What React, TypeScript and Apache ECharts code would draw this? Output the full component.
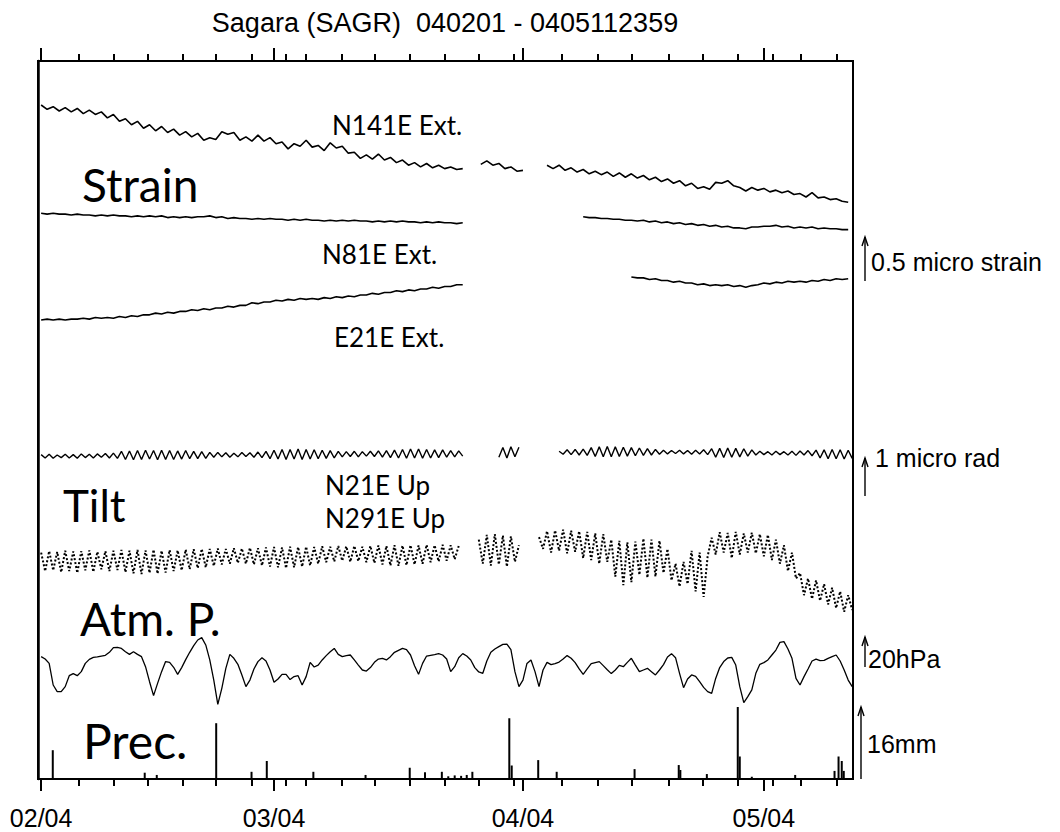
import React, { useEffect, useRef } from "react";
import * as echarts from "echarts";

// ---------- time axis (days since 2004-02-01 00:00) ----------
const X_MIN = -0.39;
const X_MAX = 101.1;
const MONTH_TICKS = [0, 29, 60, 90];
const MONTH_LABELS = ["02/04", "03/04", "04/04", "05/04"];
const MINOR_TICKS = [4.72, 9.02, 13.26, 17.62, 21.83, 26.22, 30.55, 33.0, 37.43, 41.61, 45.93, 50.29, 54.57, 58.84, 64.91, 69.33, 73.6, 78.22, 82.36, 86.75, 91.11, 94.65, 99.09];

// ---------- strain (micro strain), sampled every 0.75 day ----------
const STRAIN_STEP = 0.75;
const N141E = [
  0.00, -0.05, -0.02, -0.07, -0.03, -0.08, -0.04, -0.10, -0.06, -0.11,
  -0.08, -0.15, -0.11, -0.19, -0.16, -0.23, -0.19, -0.27, -0.23, -0.30,
  -0.25, -0.32, -0.28, -0.35, -0.31, -0.37, -0.33, -0.41, -0.38, -0.40,
  -0.31, -0.34, -0.32, -0.41, -0.37, -0.42, -0.35, -0.42, -0.38, -0.45,
  -0.43, -0.51, -0.45, -0.48, -0.41, -0.49, -0.47, -0.53, -0.44, -0.50,
  -0.48, -0.56, -0.55, -0.62, -0.58, -0.63, -0.57, -0.64, -0.61, -0.67,
  -0.64, -0.70, -0.67, -0.72, -0.68, -0.73, -0.70, -0.74, -0.72, -0.75,
  -0.74, null, null, -0.69, -0.65, -0.70, -0.68, -0.74, -0.72, -0.77,
  -0.76, null, null, null, -0.70, -0.74, -0.70, -0.76, -0.73, -0.78,
  -0.75, -0.80, -0.77, -0.81, -0.78, -0.83, -0.79, -0.84, -0.80, -0.85,
  -0.82, -0.87, -0.84, -0.89, -0.86, -0.91, -0.88, -0.94, -0.91, -0.97,
  -0.95, -0.98, -0.90, -0.91, -0.88, -0.94, -0.96, -1.00, -0.96, -0.99,
  -0.97, -1.01, -0.99, -1.02, -1.00, -1.04, -1.03, -1.07, -1.02, -1.08,
  -1.07, -1.10, -1.09, -1.12, -1.13,
];
const N81E = [
  0.00, -0.01, 0.00, -0.01, -0.01, -0.02, -0.01, -0.02, -0.02, -0.03,
  -0.02, -0.03, -0.02, -0.03, -0.03, -0.04, -0.03, -0.04, -0.03, -0.04,
  -0.03, -0.05, -0.04, -0.05, -0.04, -0.05, -0.04, -0.04, -0.03, -0.05,
  -0.04, -0.06, -0.05, -0.06, -0.06, -0.07, -0.06, -0.07, -0.06, -0.07,
  -0.07, -0.08, -0.07, -0.08, -0.07, -0.08, -0.08, -0.09, -0.08, -0.09,
  -0.08, -0.09, -0.08, -0.09, -0.09, -0.10, -0.09, -0.10, -0.09, -0.10,
  -0.09, -0.10, -0.10, -0.11, -0.10, -0.11, -0.10, -0.11, -0.11, -0.12,
  -0.11, null, null, null, null, null, null, null, null, null,
  null, null, null, null, null, null, null, null, null, null,
  -0.04, -0.05, -0.05, -0.06, -0.06, -0.07, -0.07, -0.08, -0.08, -0.09,
  -0.08, -0.10, -0.09, -0.11, -0.10, -0.12, -0.11, -0.13, -0.12, -0.14,
  -0.13, -0.15, -0.14, -0.16, -0.15, -0.17, -0.17, -0.18, -0.16, -0.16,
  -0.15, -0.15, -0.14, -0.16, -0.15, -0.17, -0.16, -0.17, -0.16, -0.18,
  -0.17, -0.18, -0.18, -0.19, -0.19,
];
const E21E = [
  0.00, 0.01, 0.00, 0.01, 0.00, 0.01, 0.01, 0.02, 0.01, 0.03,
  0.02, 0.03, 0.02, 0.04, 0.03, 0.05, 0.04, 0.06, 0.06, 0.08,
  0.07, 0.09, 0.08, 0.10, 0.10, 0.12, 0.11, 0.13, 0.12, 0.14,
  0.14, 0.16, 0.15, 0.17, 0.17, 0.20, 0.19, 0.21, 0.21, 0.23,
  0.22, 0.24, 0.23, 0.25, 0.24, 0.25, 0.24, 0.26, 0.25, 0.27,
  0.26, 0.28, 0.27, 0.29, 0.29, 0.31, 0.30, 0.32, 0.32, 0.34,
  0.33, 0.35, 0.34, 0.36, 0.36, 0.38, 0.37, 0.39, 0.39, 0.41,
  0.41, null, null, null, null, null, null, null, null, null,
  null, null, null, null, null, null, null, null, null, null,
  null, null, null, null, null, null, null, null, 0.50, 0.49,
  0.49, 0.47, 0.48, 0.46, 0.46, 0.44, 0.45, 0.43, 0.43, 0.41,
  0.42, 0.40, 0.41, 0.40, 0.41, 0.39, 0.40, 0.38, 0.40, 0.41,
  0.43, 0.42, 0.44, 0.43, 0.45, 0.44, 0.45, 0.44, 0.46, 0.45,
  0.47, 0.46, 0.48, 0.47, 0.48,
];

// ---------- tilt (micro rad), sampled every 0.5 day ----------
const TILT_STEP = 0.5;
const N21E = [
  0.01, -0.08, 0.02, -0.09, 0.00, -0.07, 0.02, -0.08, 0.01, -0.09, 0.03, -0.07, 0.02, -0.08, 0.03, -0.06, 0.04, -0.08, 0.05, -0.09,
  0.10, -0.12, 0.11, -0.13, 0.12, -0.12, 0.13, -0.11, 0.12, -0.13, 0.13, -0.12, 0.12, -0.12, 0.11, -0.11, 0.12, -0.10, 0.10, -0.10,
  0.09, -0.09, 0.07, -0.06, 0.07, -0.05, 0.06, -0.06, 0.05, -0.05, 0.07, -0.04, 0.06, -0.06, 0.08, -0.07, 0.10, -0.10, 0.13, -0.11,
  0.15, -0.12, 0.15, -0.11, 0.16, -0.12, 0.15, -0.11, 0.14, -0.10, 0.13, -0.09, 0.12, -0.08, 0.10, -0.05, 0.09, -0.04, 0.10, -0.05,
  0.09, -0.03, 0.10, -0.04, 0.11, -0.06, 0.12, -0.07, 0.13, -0.08, 0.15, -0.09, 0.16, -0.08, 0.16, -0.09, 0.15, -0.08, 0.14, -0.07,
  0.14, -0.06, 0.12, -0.05, 0.11, -0.03, null, null, null, null, null, null, null, null, -0.06, 0.20, -0.08, 0.22, -0.05, 0.21,
  null, null, null, null, null, null, null, null, null, 0.10, 0.02, 0.14, 0.01, 0.15, 0.00, 0.16, -0.01, 0.20, -0.04, 0.22,
  -0.05, 0.23, -0.05, 0.22, -0.04, 0.21, -0.03, 0.20, -0.02, 0.19, -0.01, 0.17, 0.00, 0.15, 0.02, 0.13, 0.03, 0.12, 0.04, 0.13,
  0.03, 0.12, 0.02, 0.13, 0.03, 0.14, 0.01, 0.17, -0.06, 0.18, -0.07, 0.19, -0.06, 0.18, -0.05, 0.17, -0.03, 0.14, 0.00, 0.10,
  0.01, 0.09, 0.00, 0.10, 0.01, 0.09, 0.00, 0.10, -0.01, 0.11, 0.00, 0.12, -0.02, 0.13, -0.08, 0.14, -0.10, 0.15, -0.10, 0.14,
  -0.11, 0.13, -0.09,
];
const N291E = [
  0.20, -0.30, 0.24, -0.28, 0.22, -0.33, 0.25, -0.30, 0.23, -0.35, 0.24, -0.28, 0.26, -0.32, 0.22, -0.25, 0.24, -0.30, 0.25, -0.27,
  0.27, -0.33, 0.25, -0.36, 0.27, -0.38, 0.26, -0.35, 0.28, -0.37, 0.25, -0.34, 0.27, -0.30, 0.26, -0.28, 0.28, -0.25, 0.29, -0.22,
  0.30, -0.20, 0.30, -0.16, 0.31, -0.12, 0.30, -0.10, 0.32, -0.08, 0.31, -0.10, 0.33, -0.12, 0.32, -0.15, 0.34, -0.18, 0.35, -0.20,
  0.34, -0.22, 0.36, -0.20, 0.35, -0.18, 0.36, -0.15, 0.35, -0.10, 0.37, -0.06, 0.36, -0.04, 0.38, -0.02, 0.37, -0.05, 0.38, -0.03,
  0.36, -0.06, 0.38, -0.08, 0.39, -0.12, 0.38, -0.15, 0.40, -0.16, 0.39, -0.14, 0.40, -0.12, 0.39, -0.10, 0.41, -0.06, 0.40, -0.04,
  0.41, -0.02, 0.40, 0.02, 0.38, null, null, null, null, 0.55, -0.10, 0.68, -0.15, 0.70, -0.12, 0.66, -0.18, 0.64, -0.05, 0.40,
  null, null, null, null, 0.62, 0.30, 0.78, 0.20, 0.80, 0.25, 0.82, 0.18, 0.79, 0.22, 0.78, 0.05, 0.76, 0.00, 0.72, -0.10,
  0.70, -0.05, 0.55, -0.45, 0.52, -0.68, 0.48, -0.60, 0.50, -0.40, 0.58, -0.48, 0.55, -0.45, 0.52, -0.35, 0.30, -0.55, -0.10, -0.72,
  -0.05, -0.65, 0.25, -0.85, 0.20, -1.00, 0.10, 0.60, 0.15, 0.75, 0.20, 0.73, 0.05, 0.76, 0.15, 0.72, 0.20, 0.74, 0.18, 0.70,
  0.10, 0.68, 0.00, 0.55, -0.10, 0.40, -0.30, 0.20, -0.50, -0.35, -0.95, -0.50, -1.05, -0.55, -1.10, -0.65, -1.20, -0.75, -1.30, -0.85,
  -1.40, -0.95, -1.35,
];

// ---------- atmospheric pressure (hPa), sampled every 0.5 day ----------
const ATM_STEP = 0.5;
const ATM = [
  1013.9, 1012.3, 1009.4, 995.0, 990.6, 990.6, 993.9, 1001.2, 1002.6, 1001.2,
  1003.9, 1009.4, 1012.1, 1013.4, 1013.7, 1014.3, 1014.8, 1016.8, 1019.9, 1020.1,
  1019.4, 1017.2, 1015.4, 1017.2, 1015.4, 1013.9, 1007.2, 997.2, 987.9, 996.1,
  1003.9, 1010.6, 1010.1, 1006.8, 1002.1, 1006.6, 1011.9, 1016.8, 1021.2, 1025.0,
  1026.6, 1021.7, 1011.7, 998.3, 982.1, 992.8, 1006.1, 1015.4, 1012.8, 1008.8,
  1001.7, 993.9, 998.3, 1005.7, 1010.6, 1013.2, 1011.0, 1005.0, 996.8, 999.0,
  1002.1, 1002.1, 998.6, 1000.6, 1001.2, 995.0, 1000.6, 1010.1, 1007.0, 1008.3,
  1011.7, 1014.6, 1017.2, 1019.4, 1015.4, 1013.9, 1014.6, 1015.0, 1011.7, 1008.3,
  1005.0, 1004.3, 1006.6, 1010.1, 1012.3, 1012.8, 1011.7, 1013.9, 1016.8, 1018.1,
  1019.4, 1018.6, 1015.0, 1007.9, 1002.1, 1009.4, 1014.3, 1014.8, 1015.2, 1015.9,
  1015.0, 1012.3, 1003.9, 1007.2, 1013.2, 1015.9, 1014.3, 1011.7, 1006.6, 1003.7,
  1002.8, 1011.0, 1016.8, 1019.0, 1020.6, 1022.1, 1022.3, 1018.6, 1003.9, 993.9,
  998.3, 1009.4, 1011.7, 1003.9, 993.9, 1005.0, 1010.1, 1008.6, 1009.2, 1010.3,
  1012.3, 1014.6, 1012.8, 1009.9, 1005.7, 1002.1, 1005.7, 1009.2, 1009.9, 1010.6,
  1007.9, 1005.2, 1002.6, 1005.0, 1008.1, 1007.2, 1010.1, 1012.8, 1008.3, 1003.9,
  1005.0, 1006.1, 1003.9, 1001.7, 1005.0, 1008.6, 1013.7, 1015.9, 1013.2, 1002.8,
  993.2, 999.0, 1001.7, 1000.8, 997.2, 993.4, 990.6, 989.4, 999.4, 1006.6,
  1010.6, 1013.0, 1013.4, 1008.3, 993.9, 983.2, 987.2, 991.7, 1002.8, 1008.8,
  1009.9, 1011.7, 1015.0, 1018.3, 1023.4, 1023.9, 1019.0, 1012.8, 999.4, 995.0,
  1000.6, 1005.7, 1011.0, 1012.3, 1011.2, 1011.4, 1012.8, 1013.9, 1015.0, 1011.0,
  1005.0, 998.3, 993.9,
];

// ---------- precipitation (mm) ----------
const PREC_DAYS = [1.45, 12.9, 14.4, 21.8, 26.2, 28.1, 33.9, 40.4, 45.9, 47.8, 49.9, 50.7, 51.5, 52.3, 53.0, 53.7, 58.3, 58.6, 61.9, 64.2, 73.9, 79.4, 79.6, 82.9, 86.75, 87.0, 88.5, 93.9, 98.8, 99.3, 99.7, 99.95];
const PREC_MM = [6.4, 1.4, 0.9, 12.4, 1.6, 4.0, 1.6, 0.9, 2.5, 1.5, 1.6, 0.6, 0.8, 0.7, 0.9, 1.6, 13.5, 3.0, 4.2, 1.6, 2.2, 3.1, 2.0, 1.1, 16.0, 5.0, 0.5, 0.9, 1.8, 5.0, 4.0, 1.8];

// ---------- layout ----------
const W = 1060;
const H = 832;
const G = { left: 38, top: 61, right: 853, bottom: 779 };
const SANS = "'Liberation Sans', Arial, Helvetica, sans-serif";
const GEO = "Lato, 'DejaVu Sans', sans-serif";
const MINOR_LEN = 7;
const MONTH_LEN_TOP = 13;
const MONTH_LEN_BOTTOM = 12;
const TICK_W = 2;

function axisRange(refValue: number, refPx: number, pxPerUnit: number) {
  return {
    min: refValue - (G.bottom - refPx) / pxPerUnit,
    max: refValue + (refPx - G.top) / pxPerUnit,
  };
}

function pairs(arr: (number | null)[], step: number) {
  return arr.map((v, i) => [i * step, v == null ? "-" : v]);
}

function arrow(x: number, top: number, bottom: number) {
  return [
    { type: "line", shape: { x1: x, y1: top, x2: x, y2: bottom }, style: { stroke: "#000", lineWidth: 1.4 } },
    { type: "polyline", shape: { points: [[x - 3, top + 9], [x, top], [x + 3, top + 9]] }, style: { stroke: "#000", fill: null, lineWidth: 1.4 } },
  ];
}

function txt(text: string, x: number, y: number, size: number, family: string, align = "left") {
  return {
    type: "text",
    x,
    y,
    style: { text, fontSize: size, fontFamily: family, fill: "#000", align, verticalAlign: "middle" },
  };
}

export default function App() {
  const ref = useRef<HTMLDivElement>(null);

  useEffect(() => {
    if (!ref.current) return;
    const chart = echarts.init(ref.current, null, { renderer: "svg" });

    const xAxis = [
      {
        type: "value",
        gridIndex: 0,
        min: X_MIN,
        max: X_MAX,
        position: "bottom",
        splitLine: { show: false },
        axisLine: { show: true, onZero: false, lineStyle: { color: "#000", width: 2 } },
        axisTick: { show: false },
        axisLabel: {
          show: true,
          customValues: MONTH_TICKS,
          formatter: (v: number) => MONTH_LABELS[MONTH_TICKS.indexOf(v)] ?? "",
          margin: 26,
          fontSize: 25,
          fontFamily: SANS,
          color: "#000",
        },
      },
    ];

    const hiddenY = (r: { min: number; max: number }) => ({ type: "value", gridIndex: 0, show: false, min: r.min, max: r.max, splitLine: { show: false }, axisLine: { onZero: false } });
    const yAxis = [
      { ...hiddenY(axisRange(0, 105, 86)), show: true, position: "left", axisLine: { show: true, onZero: false, lineStyle: { color: "#000", width: 2.5 } }, axisTick: { show: false }, axisLabel: { show: false } },
      hiddenY(axisRange(0, 213.3, 86)),
      hiddenY(axisRange(0, 320, 86)),
      hiddenY(axisRange(0, 455, 37)),
      hiddenY(axisRange(0, 560, 37)),
      hiddenY(axisRange(1015, 655, 1.5)),
      hiddenY(axisRange(0, G.bottom, 4.5)),
    ];

    const lineSeries = (name: string, data: any[], yi: number, style: any) => ({
      name,
      type: "line",
      xAxisIndex: 0,
      yAxisIndex: yi,
      data,
      showSymbol: false,
      symbol: "none",
      connectNulls: false,
      silent: true,
      lineStyle: style,
    });

    // tick marks on the top and bottom frame, placed through the x scale
    const tickData = [
      ...MINOR_TICKS.map((v) => [v, MINOR_LEN, MINOR_LEN]),
      ...MONTH_TICKS.map((v) => [v, MONTH_LEN_TOP, MONTH_LEN_BOTTOM]),
    ];
    const tickSeries = {
      name: "ticks",
      type: "custom",
      xAxisIndex: 0,
      yAxisIndex: 0,
      clip: false,
      silent: true,
      z: 10,
      data: tickData,
      encode: { x: 0 },
      renderItem: (params: any, api: any) => {
        const x = Math.round(api.coord([api.value(0), 0])[0]);
        const topLen = api.value(1);
        const botLen = api.value(2);
        const st = { stroke: "#000", lineWidth: TICK_W, fill: null };
        return {
          type: "group",
          children: [
            { type: "line", shape: { x1: x, y1: G.top, x2: x, y2: G.top - topLen }, style: st },
            { type: "line", shape: { x1: x, y1: G.bottom, x2: x, y2: G.bottom + botLen }, style: st },
          ],
        };
      },
    };

    const series: any[] = [
      lineSeries("N141E Ext.", pairs(N141E, STRAIN_STEP), 0, { color: "#000", width: 1.6 }),
      lineSeries("N81E Ext.", pairs(N81E, STRAIN_STEP), 1, { color: "#000", width: 1.6 }),
      lineSeries("E21E Ext.", pairs(E21E, STRAIN_STEP), 2, { color: "#000", width: 1.6 }),
      lineSeries("N21E Up", pairs(N21E, TILT_STEP), 3, { color: "#000", width: 1.4 }),
      lineSeries("N291E Up", pairs(N291E, TILT_STEP), 4, { color: "#000", width: 2, type: "dotted" }),
      lineSeries("Atm. P.", pairs(ATM, ATM_STEP), 5, { color: "#000", width: 1.3 }),
      {
        name: "Prec.",
        type: "bar",
        xAxisIndex: 0,
        yAxisIndex: 6,
        data: PREC_DAYS.map((d, i) => [d, PREC_MM[i]]),
        barWidth: 2,
        silent: true,
        itemStyle: { color: "#000" },
      },
      tickSeries,
    ];

    const graphic: any[] = [
      txt("Sagara (SAGR)  040201 - 0405112359", 445, 23, 27, SANS, "center"),
      txt("Strain", 82, 184, 46, GEO),
      txt("N141E Ext.", 332, 125, 26, GEO),
      txt("N81E Ext.", 322, 254, 26, GEO),
      txt("E21E Ext.", 334, 337, 26, GEO),
      txt("Tilt", 63, 505, 44, GEO),
      txt("N21E Up", 325, 485, 26, GEO),
      txt("N291E Up", 325, 518, 26, GEO),
      txt("Atm. P.", 80, 618, 46, GEO),
      txt("Prec.", 83, 740, 48, GEO),
      txt("0.5 micro strain", 871, 262, 25, SANS),
      txt("1 micro rad", 875, 458, 25, SANS),
      txt("20hPa", 868, 659, 25, SANS),
      txt("16mm", 867, 744, 25, SANS),
      ...arrow(865, 237, 281),
      ...arrow(865, 458, 496),
      ...arrow(865, 637, 667),
      ...arrow(861, 707, 779),
    ];

    chart.setOption({
      animation: false,
      backgroundColor: "#fff",
      grid: {
        left: G.left,
        top: G.top,
        right: W - G.right,
        bottom: H - G.bottom,
        containLabel: false,
        outerBoundsMode: "none",
        show: true,
        borderColor: "#000",
        borderWidth: 2,
        backgroundColor: "transparent",
      },
      xAxis,
      yAxis,
      series,
      graphic: { elements: graphic },
    });

    return () => chart.dispose();
  }, []);

  return <div ref={ref} style={{ position: "absolute", left: 0, top: 0, width: W, height: H, background: "#fff" }} />;
}
